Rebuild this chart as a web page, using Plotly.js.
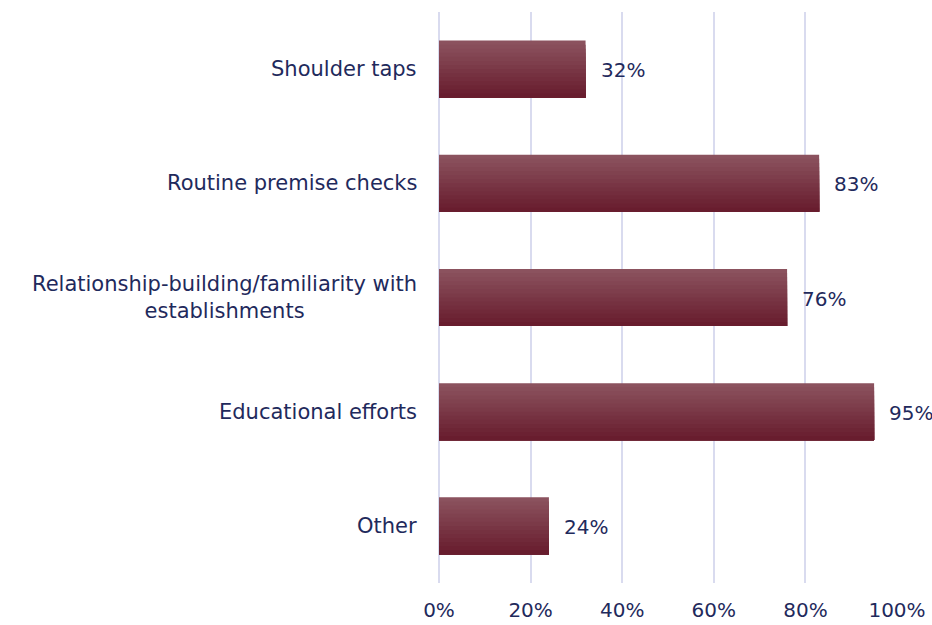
<!DOCTYPE html>
<html><head><meta charset="utf-8">
<script src="https://cdn.plot.ly/plotly-3.0.1.min.js"></script>
<style>html,body{margin:0;padding:0;background:#fff}</style>
</head><body><div id="chart" style="width:932px;height:625px"></div>
<script>
const categories = ["Shoulder taps", "Routine premise checks", "Relationship-building/familiarity with<br>establishments", "Educational efforts", "Other"];
const values = [32, 83, 76, 95, 24];
const valueLabels = ["32%", "83%", "76%", "95%", "24%"];
const tickVals = [0, 20, 40, 60, 80, 100];
const tickText = ["0%", "20%", "40%", "60%", "80%", "100%"];

const FONT = 'DejaVu Sans';
const TXT = '#1f2a5c';
const N = 14;
const barWidth = 0.5;
const step = barWidth / N;
const topColor = [139, 82, 94];
const botColor = [104, 29, 46];
const traces = [];
for (let i = 0; i < N; i++) {
  const t = i / (N - 1);
  const c = topColor.map((v, k) => Math.round(v + (botColor[k] - v) * t));
  traces.push({
    type: 'bar', orientation: 'h', y: categories, x: values,
    width: barWidth - i * step, offset: -barWidth / 2 + i * step,
    marker: {color: `rgb(${c[0]},${c[1]},${c[2]})`, line: {width: 0}},
    hoverinfo: 'skip', showlegend: false
  });
}
const annotations = categories.map((c, i) => ({
  x: values[i], y: c, xref: 'x', yref: 'y', yshift: -1, text: valueLabels[i],
  showarrow: false, xanchor: 'left', xshift: 13,
  font: {family: FONT, size: 20, color: TXT}
})).concat(categories.map((c) => ({
  x: 0, y: c, xref: 'paper', yref: 'y', text: c,
  showarrow: false, xanchor: 'right', xshift: -20, align: 'center',
  font: {family: FONT, size: 21, color: TXT}
})));
const layout = {
  width: 932, height: 625,
  margin: {l: 439, r: 35, t: 12, b: 42},
  barmode: 'overlay',
  paper_bgcolor: '#fff', plot_bgcolor: '#fff',
  font: {family: FONT, size: 20, color: TXT},
  xaxis: {range: [0, 100], tickvals: tickVals, ticktext: tickText, showgrid: true,
          gridcolor: '#d9dbef', gridwidth: 2, zeroline: true, zerolinecolor: '#d9dbef', zerolinewidth: 2,
          showline: false, ticks: 'outside', ticklen: 9, tickcolor: 'rgba(0,0,0,0)',
          automargin: false, fixedrange: true, tickfont: {family: FONT, size: 20, color: TXT}},
  yaxis: {type: 'category', autorange: 'reversed', showgrid: false, zeroline: false,
          showline: false, showticklabels: false, automargin: false},
  annotations: annotations
};
Plotly.newPlot('chart', traces, layout, {displayModeBar: false, staticPlot: true});
</script></body></html>
